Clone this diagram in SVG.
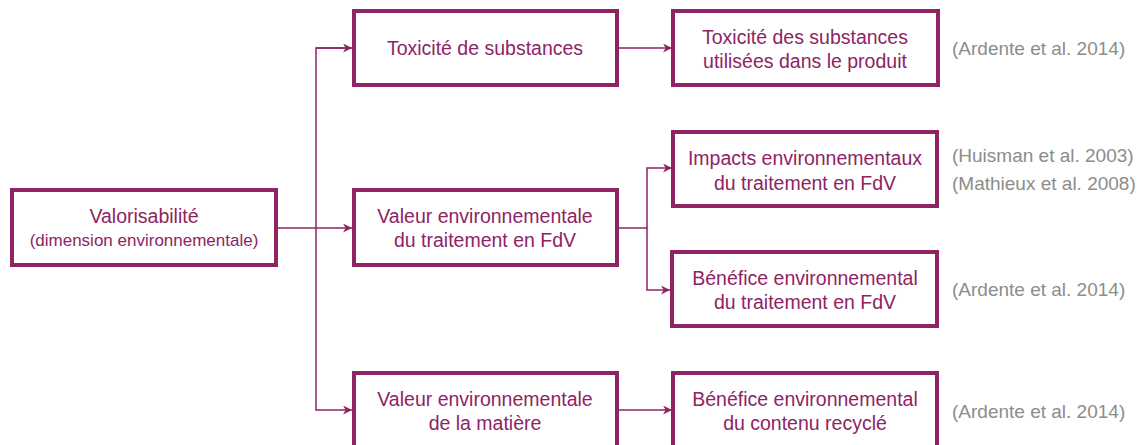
<svg xmlns="http://www.w3.org/2000/svg" width="1141" height="445" viewBox="0 0 1141 445">
<style>
.box{fill:#fff;stroke:#8e2464;stroke-width:4}
.t{font-family:"Liberation Sans",Arial,sans-serif;font-size:19.5px;fill:#8e2464;text-anchor:middle}
.s{font-size:17px}
.c{font-family:"Liberation Sans",Arial,sans-serif;font-size:19px;fill:#8c8c8c}
.ln{fill:none;stroke:#8e2464;stroke-width:1.5}
</style>
<defs>
<marker id="ah" viewBox="0 0 10 10" refX="10" refY="5" markerWidth="9" markerHeight="9" markerUnits="userSpaceOnUse" orient="auto">
<path d="M0,0 L10,5 L0,10 L3,5 Z" fill="#8e2464"/>
</marker>
</defs>
<rect width="1141" height="445" fill="#fff"/>
<g id="connectors">
<path class="ln" d="M277,228 H352" marker-end="url(#ah)"/>
<path class="ln" d="M352,48 H316 V410 H352" marker-end="url(#ah)"/>
<path class="ln" d="M316,48 H352" marker-end="url(#ah)"/>
<path class="ln" d="M617,48 H672" marker-end="url(#ah)"/>
<path class="ln" d="M617,228 H647 V168 H672" marker-end="url(#ah)"/>
<path class="ln" d="M647,228 V290 H670" marker-end="url(#ah)"/>
<path class="ln" d="M617,410 H672" marker-end="url(#ah)"/>
</g>
<g id="n1"><rect class="box" x="12" y="190" width="264" height="75"/>
<text class="t" x="144" y="223">Valorisabilité</text>
<text class="t s" x="144" y="246">(dimension environnementale)</text></g>
<g id="n2"><rect class="box" x="354" y="11" width="263" height="74"/>
<text class="t" x="485" y="55">Toxicité de substances</text></g>
<g id="n3"><rect class="box" x="673" y="11" width="265" height="74"/>
<text class="t" x="805" y="44">Toxicité des substances</text>
<text class="t" x="805" y="68">utilisées dans le produit</text></g>
<g id="n4"><rect class="box" x="354" y="190" width="263" height="75"/>
<text class="t" x="485" y="223">Valeur environnementale</text>
<text class="t" x="485" y="247">du traitement en FdV</text></g>
<g id="n5"><rect class="box" x="673" y="132" width="264" height="74"/>
<text class="t" x="805" y="165">Impacts environnementaux</text>
<text class="t" x="805" y="190">du traitement en FdV</text></g>
<g id="n6"><rect class="box" x="672" y="252" width="265" height="74"/>
<text class="t" x="805" y="285">Bénéfice environnemental</text>
<text class="t" x="805" y="309">du traitement en FdV</text></g>
<g id="n7"><rect class="box" x="354" y="373" width="263" height="74"/>
<text class="t" x="485" y="406">Valeur environnementale</text>
<text class="t" x="485" y="430">de la matière</text></g>
<g id="n8"><rect class="box" x="673" y="373" width="264" height="74"/>
<text class="t" x="805" y="406">Bénéfice environnemental</text>
<text class="t" x="805" y="430">du contenu recyclé</text></g>
<g id="citations">
<text class="c" x="952" y="55">(Ardente et al. 2014)</text>
<text class="c" x="952" y="162">(Huisman et al. 2003)</text>
<text class="c" x="952" y="190">(Mathieux et al. 2008)</text>
<text class="c" x="952" y="296">(Ardente et al. 2014)</text>
<text class="c" x="952" y="418">(Ardente et al. 2014)</text>
</g>
</svg>
